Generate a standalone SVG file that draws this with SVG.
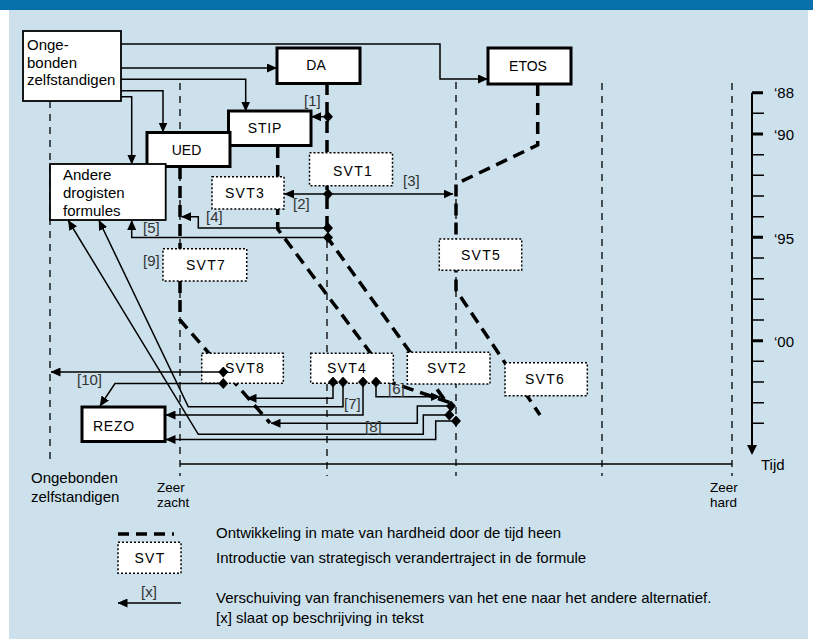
<svg xmlns="http://www.w3.org/2000/svg" width="813" height="639" viewBox="0 0 813 639">
<defs>
<marker id="arr" markerUnits="userSpaceOnUse" markerWidth="10" markerHeight="9" refX="9.5" refY="4.5" orient="auto"><path d="M0,0 L10,4.5 L0,9 z" fill="#000"/></marker>
<marker id="dia" markerUnits="userSpaceOnUse" markerWidth="10" markerHeight="11" refX="5" refY="5.5" orient="0"><path d="M0,5.5 L5,0 L10,5.5 L5,11 z" fill="#000"/></marker>
<style>
text{font-family:"Liberation Sans",Arial,sans-serif;font-size:15px;fill:#000}
.lbl{fill:#333}
.bx{font-size:14px}
.sm{font-size:13.5px}
.sv{font-size:14px;letter-spacing:1.3px}
.grid{stroke:#000;stroke-width:1.3;stroke-dasharray:7 6;fill:none}
.dev{stroke:#000;stroke-width:3.5;stroke-dasharray:12 7;fill:none}
.c{stroke:#000;stroke-width:1.5;fill:none}
.a{marker-end:url(#arr)}
.d{marker-start:url(#dia)}
.thick{fill:#fff;stroke:#000;stroke-width:3}
.thin{fill:#fff;stroke:#000;stroke-width:1.8}
.svt{fill:#fff;stroke:#000;stroke-width:1.5;stroke-dasharray:2 2}
</style>
</defs>
<rect x="0" y="0" width="813" height="639" fill="#fff"/>
<rect x="9" y="10" width="799" height="629" fill="#cce1ec"/>
<rect x="0" y="0" width="813" height="10" fill="#0570a9"/>

<g id="grid">
<path class="grid" d="M50,101 V460"/>
<path class="grid" d="M180,83 V476"/>
<path class="grid" d="M327,241 V476"/>
<path class="grid" d="M456,82 V476"/>
<path class="grid" d="M602,83 V476"/>
<path class="grid" d="M732,83 V476"/>
<path d="M180,464 H732" stroke="#000" stroke-width="1.5"/>
</g>

<g id="time-axis">
<path d="M752,92.7 V446" stroke="#000" stroke-width="2"/>
<path d="M747,445 L757,445 L752,455 z" fill="#000"/>
<path d="M752,92.7 H763 M752,134 H763 M752,237.3 H763 M752,340.7 H763" stroke="#000" stroke-width="3"/>
<path d="M752,113.3 H764 M752,154.7 H764 M752,175.3 H764 M752,196 H764 M752,216.7 H764 M752,258 H764 M752,278.7 H764 M752,299.3 H764 M752,320 H764 M752,361.3 H764 M752,382 H764 M752,402.7 H764 M752,423.3 H764" stroke="#000" stroke-width="1.5"/>
<text x="774" y="98">‘88</text>
<text x="774" y="140">‘90</text>
<text x="774" y="243.5">‘95</text>
<text x="774" y="347">‘00</text>
<text x="761" y="470">Tijd</text>
</g>

<g id="axis-labels">
<text x="31" y="483">Ongebonden</text>
<text x="31" y="501.5">zelfstandigen</text>
<text class="sm" x="157" y="492">Zeer</text>
<text class="sm" x="157" y="507">zacht</text>
<text class="sm" x="710" y="492">Zeer</text>
<text class="sm" x="710" y="507">hard</text>
</g>

<g id="development">
<path class="dev" d="M327,83 V237 L452,410"/>
<path class="dev" d="M277.7,146 V229 L393,383 L451,403"/>
<path class="dev" d="M180,167 V320 L270,423"/>
<path class="dev" d="M537.7,84 V145 L456,184 V290 L540,415"/>
</g>

<g id="ong"><rect class="thin" x="23" y="31" width="98" height="70"/><text x="27" y="50">Onge-</text><text x="27" y="67.5">bonden</text><text x="27" y="85">zelfstandigen</text></g>
<g id="da"><rect class="thick" x="277" y="48" width="83" height="35.5"/><text class="bx" x="316" y="70" text-anchor="middle">DA</text></g>
<g id="etos"><rect class="thick" x="488" y="48" width="83" height="36"/><text class="bx" x="528" y="70.5" text-anchor="middle">ETOS</text></g>
<g id="stip"><rect class="thick" x="228.5" y="111" width="82.5" height="34.5"/><text class="bx" x="265" y="133" text-anchor="middle" letter-spacing="0.8">STIP</text></g>
<g id="ued"><rect class="thick" x="147" y="132.5" width="83" height="34"/><text class="bx" x="186.5" y="155" text-anchor="middle">UED</text></g>
<g id="andere"><rect class="thin" x="50" y="164" width="115.7" height="56"/><text x="63" y="180">Andere</text><text x="63" y="198">drogisten</text><text x="63" y="215.5">formules</text></g>
<g id="svt1"><rect class="svt" x="309.5" y="152.7" width="83" height="33"/><text class="sv" x="353" y="176" text-anchor="middle">SVT1</text></g>
<g id="svt3"><rect class="svt" x="212" y="176.7" width="72" height="32.3"/><text class="sv" x="245" y="198" text-anchor="middle">SVT3</text></g>
<g id="svt7"><rect class="svt" x="163" y="248.7" width="83.7" height="32.3"/><text class="sv" x="206" y="270" text-anchor="middle">SVT7</text></g>
<g id="svt5"><rect class="svt" x="439.3" y="239" width="82.4" height="31.3"/><text class="sv" x="481" y="259.5" text-anchor="middle">SVT5</text></g>
<g id="svt8"><rect class="svt" x="201.7" y="353.3" width="81.6" height="30"/><text class="sv" x="245" y="373" text-anchor="middle">SVT8</text></g>
<g id="svt4"><rect class="svt" x="310.7" y="353.3" width="82.6" height="30"/><text class="sv" x="347" y="373.3" text-anchor="middle">SVT4</text></g>
<g id="svt2"><rect class="svt" x="407.3" y="352.3" width="82.7" height="31.7"/><text class="sv" x="447" y="373.3" text-anchor="middle">SVT2</text></g>
<g id="svt6"><rect class="svt" x="505" y="362.7" width="82.3" height="33"/><text class="sv" x="545" y="383.5" text-anchor="middle">SVT6</text></g>
<g id="rezo"><rect class="thick" x="82" y="407" width="83" height="34.5"/><text class="bx" x="114" y="431" text-anchor="middle" letter-spacing="0.8">REZO</text></g>

<g id="connectors">
<path class="c a" d="M121,44 H440 V79 H487.5"/>
<path class="c a" d="M121,68 H276.5"/>
<path class="c a" d="M121,79.3 H245.7 V111"/>
<path class="c a" d="M121,90.7 H163 V132"/>
<path class="c a" d="M121,96.7 H131.7 V164"/>
<path class="c a d" d="M328,116.7 H311.5"/>
<path class="c a d" d="M328,194 H284.5"/>
<path class="c a" d="M328,194 H453"/>
<path class="c a d" d="M328,228 H198.3 V216.7 H181.5"/>
<path class="c a d" d="M328,237.5 H131.7 V220.5"/>
<path class="c a d" d="M223.3,372 H51"/>
<path class="c a d" d="M223.3,383.5 H115 L100,406"/>
<path class="c a d" d="M333,382 V398.3 H247"/>
<path class="c a d" d="M343,382 V406.7 H188.3 L99,220.5"/>
<path class="c a d" d="M363,382 V415 H166"/>
<path class="c a d" d="M376,382 V396.7 H440"/>
<path class="c a d" d="M451,406 H417.3 V423.3 H271"/>
<path class="c a d" d="M449.3,415 H423.3 V434.3 H198.3 L68.3,220.5"/>
<path class="c a d" d="M456,421 H435.7 V439.5 H166"/>
</g>

<g id="connector-labels">
<text class="lbl" x="304" y="106">[1]</text>
<text class="lbl" x="293" y="209">[2]</text>
<text class="lbl" x="403" y="186">[3]</text>
<text class="lbl" x="206" y="222">[4]</text>
<text class="lbl" x="143" y="233">[5]</text>
<text class="lbl" x="388" y="394">[6]</text>
<text class="lbl" x="344" y="409">[7]</text>
<text class="lbl" x="365" y="432">[8]</text>
<text class="lbl" x="143" y="266">[9]</text>
<text class="lbl" x="77" y="385">[10]</text>
</g>

<g id="legend">
<path d="M118,534 H174" stroke="#000" stroke-width="3.5" stroke-dasharray="11 7"/>
<text x="216" y="538">Ontwikkeling in mate van hardheid door de tijd heen</text>
<rect class="svt" x="118" y="542.3" width="63" height="31"/>
<text class="sv" x="150" y="563" text-anchor="middle">SVT</text>
<text x="216" y="563">Introductie van strategisch verandertraject in de formule</text>
<text class="lbl" x="141" y="597">[x]</text>
<path class="c a" d="M181,603 H118"/>
<text x="216" y="603">Verschuiving van franchisenemers van het ene naar het andere alternatief.</text>
<text x="216" y="623">[x] slaat op beschrijving in tekst</text>
</g>
</svg>
